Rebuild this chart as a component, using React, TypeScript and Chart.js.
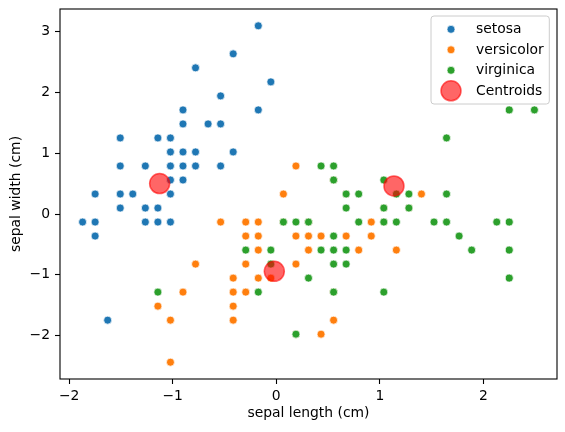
import React, { useEffect, useRef } from "react";
import { Chart, registerables } from "chart.js";

Chart.register(...registerables);

// Standardized iris measurements (z-scores), one entry per distinct point
const setosaX = [-0.9007, -1.143, -1.3853, -1.5065, -1.0218, -0.5372, -1.5065, -1.0218, -1.7489, -1.143, -0.5372, -1.2642, -1.2642, -1.87, -0.0525, -0.1737, -0.1737, -0.9007, -0.5372, -0.9007, -1.5065, -0.9007, -1.0218, -0.7795, -0.7795, -1.2642, -0.7795, -0.416, -1.0218, -0.416, -1.143, -1.7489, -0.9007, -1.0218, -1.6277, -1.7489, -1.5065, -0.6583, -1.0218];
const setosaY = [1.019, -0.132, 0.3284, 0.0982, 1.2492, 1.9398, 0.7888, 0.7888, -0.3621, 0.0982, 1.4794, 0.7888, -0.132, -0.132, 2.17, 3.0908, 1.7096, 1.7096, 0.7888, 1.4794, 1.2492, 0.5586, -0.132, 1.019, 0.7888, 0.0982, 2.4002, 2.6304, 0.3284, 1.019, 1.2492, -0.132, 0.7888, 1.019, -1.7433, 0.3284, 0.3284, 1.4794, 0.5586];

const versicolorX = [1.4015, 0.6745, 1.2803, -0.416, 0.7957, -0.1737, 0.5533, -1.143, 0.9168, -0.7795, -1.0218, 0.0687, 0.1898, 0.311, -0.2948, 1.038, -0.2948, -0.0525, 0.4322, -0.2948, 0.0687, 0.311, 0.5533, 0.6745, 0.9168, 1.1592, 1.038, 0.1898, -0.1737, -0.416, 0.1898, -0.5372, 0.1898, 0.5533, -0.416, -0.416, 0.311, -0.0525, -1.0218, -0.2948, -0.1737, -0.1737, 0.4322, -0.9007];
const versicolorY = [0.3284, 0.3284, 0.0982, -1.7433, -0.5923, -0.5923, 0.5586, -1.5131, -0.3621, -0.8225, -2.4339, -0.132, -1.9735, -0.3621, -0.3621, 0.0982, -0.132, -0.8225, -1.9735, -1.2829, 0.3284, -0.5923, -1.2829, -0.3621, -0.132, -0.5923, -0.132, -0.3621, -1.0527, -1.5131, -0.8225, -0.132, 0.7888, -1.7433, -1.2829, -1.0527, -0.132, -1.0527, -1.7433, -0.8225, -0.132, -0.3621, -0.3621, -1.2829];

const virginicaX = [0.5533, -0.0525, 1.5227, 0.5533, 0.7957, 2.1285, -1.143, 1.765, 1.038, 1.6438, 0.7957, 0.6745, 1.1592, -0.1737, -0.0525, 0.6745, 2.2497, 2.2497, 0.1898, 1.2803, -0.2948, 2.2497, 0.5533, 1.038, 1.6438, 0.4322, 0.311, 0.6745, 1.6438, 1.8862, 2.492, 0.5533, 0.311, 2.2497, 0.5533, 0.6745, 0.1898, 1.2803, 1.038, 1.1592, 1.038, 0.5533, 0.4322, 0.0687];
const virginicaY = [0.5586, -0.8225, -0.132, -0.3621, -0.132, -0.132, -1.2829, -0.3621, -1.2829, 1.2492, 0.3284, -0.8225, -0.132, -1.2829, -0.5923, 0.3284, 1.7096, -1.0527, -1.9735, 0.3284, -0.5923, -0.5923, -0.8225, 0.5586, 0.3284, -0.5923, -0.132, -0.5923, -0.132, -0.5923, 1.7096, -0.5923, -1.0527, -0.132, 0.7888, 0.0982, -0.132, 0.0982, 0.0982, 0.3284, -0.132, -1.2829, 0.7888, -0.132];

const centroidX = [-1.126, -0.019, 1.136];
const centroidY = [0.5, -0.941, 0.461];

const seriesNames = ["setosa", "versicolor", "virginica", "Centroids"];
const seriesColors = ["#1f77b4", "#ff7f0e", "#2ca02c", "rgba(255,0,0,0.6)"];

const xTicks = [-2, -1, 0, 1, 2];
const yTicks = [-2, -1, 0, 1, 2, 3];
const xLabel = "sepal length (cm)";
const yLabel = "sepal width (cm)";

const FONT = "DejaVu Sans";
const FONT_SIZE = 13.9;

const toPoints = (xs: number[], ys: number[]) => xs.map((x, i) => ({ x, y: ys[i] }));
const fmtTick = (v: number) => (v < 0 ? "\u2212" + Math.abs(v) : String(v));

// Black box around the plotting area
const framePlugin = {
  id: "frame",
  afterDatasetsDraw(chart: any) {
    const { ctx, chartArea: a } = chart;
    ctx.save();
    ctx.strokeStyle = "#000";
    ctx.lineWidth = 1.1;
    ctx.strokeRect(a.left, a.top, a.right - a.left, a.bottom - a.top);
    ctx.restore();
  },
};

// Legend placed inside the upper-right corner of the axes
const innerLegendPlugin = {
  id: "innerLegend",
  afterDraw(chart: any) {
    const { ctx, chartArea: a } = chart;
    const right = a.right - 7.7;
    const top = a.top + 7;
    const w = 118.3;
    const h = 88;
    const left = right - w;
    ctx.save();
    ctx.beginPath();
    ctx.roundRect(left, top, w, h, 3);
    ctx.fillStyle = "rgba(255,255,255,0.8)";
    ctx.fill();
    ctx.strokeStyle = "#cccccc";
    ctx.lineWidth = 1;
    ctx.stroke();
    ctx.font = `${FONT_SIZE}px "${FONT}"`;
    ctx.textBaseline = "middle";
    ctx.textAlign = "left";
    const markerX = left + 20;
    const textX = left + 45;
    seriesNames.forEach((name, i) => {
      const y = top + 13.3 + i * 20.5;
      ctx.beginPath();
      if (i < 3) {
        ctx.arc(markerX, y, 4, 0, Math.PI * 2);
        ctx.fillStyle = seriesColors[i];
        ctx.fill();
        ctx.strokeStyle = "#ffffff";
        ctx.lineWidth = 0.7;
        ctx.stroke();
      } else {
        ctx.arc(markerX, y, 10, 0, Math.PI * 2);
        ctx.fillStyle = seriesColors[i];
        ctx.fill();
        ctx.strokeStyle = seriesColors[i];
        ctx.lineWidth = 1.5;
        ctx.stroke();
      }
      ctx.fillStyle = "#000";
      ctx.fillText(name, textX, y + 0.5);
    });
    ctx.restore();
  },
};

export default function App() {
  const canvasRef = useRef<HTMLCanvasElement | null>(null);

  useEffect(() => {
    if (!canvasRef.current) return;
    Chart.defaults.font.family = FONT;

    const speciesData = [
      toPoints(setosaX, setosaY),
      toPoints(versicolorX, versicolorY),
      toPoints(virginicaX, virginicaY),
    ];

    const datasets: any[] = speciesData.map((data, i) => ({
      label: seriesNames[i],
      data,
      backgroundColor: seriesColors[i],
      borderColor: "#ffffff",
      borderWidth: 0.7,
      pointRadius: 4,
      pointHoverRadius: 4,
      order: 10 - i,
    }));
    datasets.push({
      label: seriesNames[3],
      data: toPoints(centroidX, centroidY),
      backgroundColor: seriesColors[3],
      borderColor: seriesColors[3],
      borderWidth: 1.5,
      pointRadius: 10,
      pointHoverRadius: 10,
      order: 1,
    });

    const tickFont = { family: FONT, size: FONT_SIZE };

    const chart = new Chart(canvasRef.current, {
      type: "scatter",
      data: { datasets },
      plugins: [framePlugin, innerLegendPlugin],
      options: {
        animation: false,
        responsive: false,
        devicePixelRatio: 1,
        events: [],
        layout: { autoPadding: false, padding: { left: 0, top: 9, right: 8, bottom: 0 } },
        plugins: { legend: { display: false }, tooltip: { enabled: false } },
        scales: {
          x: {
            type: "linear",
            position: "bottom",
            min: -2.088,
            max: 2.71,
            afterBuildTicks: (s: any) => {
              s.ticks = xTicks.map((value) => ({ value }));
            },
            afterFit: (s: any) => {
              s.height = 53;
              s.paddingLeft = 0;
              s.paddingRight = 0;
            },
            grid: {
              display: true,
              drawOnChartArea: false,
              drawTicks: true,
              tickLength: 5,
              tickWidth: 1.1,
              tickColor: "#000",
            },
            border: { display: false },
            ticks: {
              color: "#000",
              font: tickFont,
              padding: 4,
              maxRotation: 0,
              callback: (v: any) => fmtTick(Number(v)),
            },
            title: {
              display: true,
              text: xLabel,
              color: "#000",
              font: tickFont,
              padding: { top: 0, bottom: 10 },
            },
          },
          y: {
            type: "linear",
            position: "left",
            min: -2.71,
            max: 3.367,
            afterBuildTicks: (s: any) => {
              s.ticks = yTicks.map((value) => ({ value }));
            },
            afterFit: (s: any) => {
              s.width = 60;
              s.paddingTop = 0;
              s.paddingBottom = 0;
            },
            grid: {
              display: true,
              drawOnChartArea: false,
              drawTicks: true,
              tickLength: 5,
              tickWidth: 1.1,
              tickColor: "#000",
            },
            border: { display: false },
            ticks: {
              color: "#000",
              font: tickFont,
              padding: 5,
              callback: (v: any) => fmtTick(Number(v)),
            },
            title: {
              display: true,
              text: yLabel,
              color: "#000",
              font: tickFont,
              padding: { top: 8.4, bottom: 0 },
            },
          },
        },
      },
    } as any);

    return () => chart.destroy();
  }, []);

  return (
    <div style={{ position: "absolute", left: 0, top: 0, width: 565, height: 432, background: "#fff" }}>
      <canvas ref={canvasRef} width={565} height={432} />
    </div>
  );
}
